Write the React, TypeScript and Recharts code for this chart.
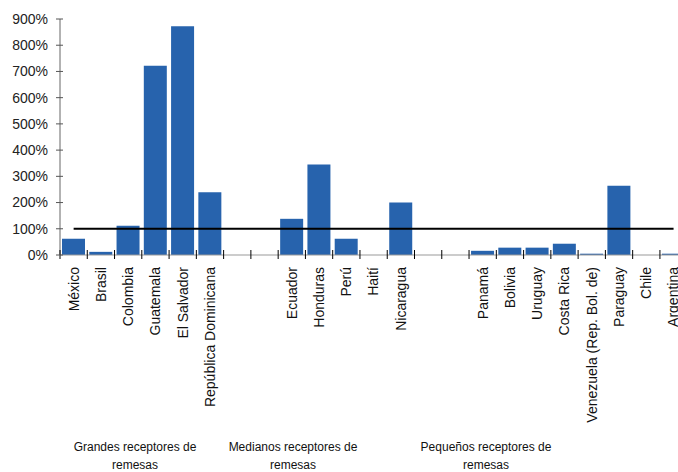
import { Bar, BarChart, ReferenceLine, XAxis, YAxis } from "recharts";

const countries = [
  "México", "Brasil", "Colombia", "Guatemala", "El Salvador", "República Dominicana",
  "_gap1", "_gap2",
  "Ecuador", "Honduras", "Perú", "Haití", "Nicaragua",
  "_gap3", "_gap4",
  "Panamá", "Bolivia", "Uruguay", "Costa Rica", "Venezuela (Rep. Bol. de)", "Paraguay", "Chile", "Argentina",
];
const ratios = [
  62, 12, 112, 722, 872, 239,
  null, null,
  138, 345, 62, 0, 200,
  null, null,
  16, 28, 28, 43, 5, 264, 0, 5,
];
const yTicks = [0, 100, 200, 300, 400, 500, 600, 700, 800, 900];
const groupLabels = [
  { text: "Grandes receptores de remesas", center: 135 },
  { text: "Medianos receptores de remesas", center: 293 },
  { text: "Pequeños receptores de remesas", center: 486 },
];

const data = countries.map((name, i) => ({ name, value: ratios[i] }));

const FONT = "'Liberation Sans', Arial, sans-serif";
const CHART_W = 700;
const LEFT = 60;
const RIGHT = 12.8;
const BAND = (CHART_W - LEFT - RIGHT) / countries.length;

function CountryTick(props: any) {
  const { x, y, payload } = props;
  const name: string = payload.value;
  const bx = x - BAND / 2;
  return (
    <g>
      <line x1={bx} y1={y - 5} x2={bx} y2={y + 4} stroke="#000" strokeWidth={1} />
      {!name.startsWith("_") && (
        <text
          x={x}
          y={y + 12}
          dy="0.35em"
          transform={`rotate(-90, ${x}, ${y + 12})`}
          textAnchor="end"
          fontSize={14}
          fontFamily={FONT}
          fill="#111"
        >
          {name}
        </text>
      )}
    </g>
  );
}

function PercentTick(props: any) {
  const { x, y, payload } = props;
  // x arrives at the label anchor; axis line sits 12px to the right
  const ax = x + 12;
  return (
    <g>
      <line x1={ax - 4} y1={y} x2={ax + 3} y2={y} stroke="#555" strokeWidth={1} />
      <text x={x} y={y} dy="0.35em" textAnchor="end" fontSize={14} fontFamily={FONT} fill="#222">
        {`${payload.value}%`}
      </text>
    </g>
  );
}

export default function App() {
  return (
    <div
      style={{
        position: "fixed",
        left: 0,
        top: 0,
        width: 678,
        height: 472,
        overflow: "hidden",
        background: "#fff",
      }}
    >
      <BarChart
        width={CHART_W}
        height={472}
        data={data}
        margin={{ top: 19, right: RIGHT, bottom: 0, left: 0 }}
        barCategoryGap={2}
      >
        <XAxis
          dataKey="name"
          interval={0}
          height={217}
          tickSize={0}
          tickMargin={0}
          tickLine={false}
          stroke="#999"
          tick={<CountryTick />}
        />
        <YAxis
          width={LEFT}
          domain={[0, 900]}
          ticks={yTicks}
          interval={0}
          tickSize={4}
          tickMargin={8}
          tickLine={false}
          stroke="#666"
          tick={<PercentTick />}
        />
        <Bar dataKey="value" fill="#2763ad" isAnimationActive={false} />
        <ReferenceLine
          segment={[
            { x: "México", y: 100 },
            { x: "Argentina", y: 100 },
          ]}
          stroke="#000"
          strokeWidth={2}
        />
      </BarChart>
      {groupLabels.map((g) => (
        <div
          key={g.text}
          style={{
            position: "absolute",
            left: g.center - 90,
            top: 438,
            width: 180,
            textAlign: "center",
            fontFamily: FONT,
            fontSize: 12,
            lineHeight: "18px",
            color: "#111",
          }}
        >
          {g.text.replace(" remesas", "")}
          <br />
          remesas
        </div>
      ))}
    </div>
  );
}
